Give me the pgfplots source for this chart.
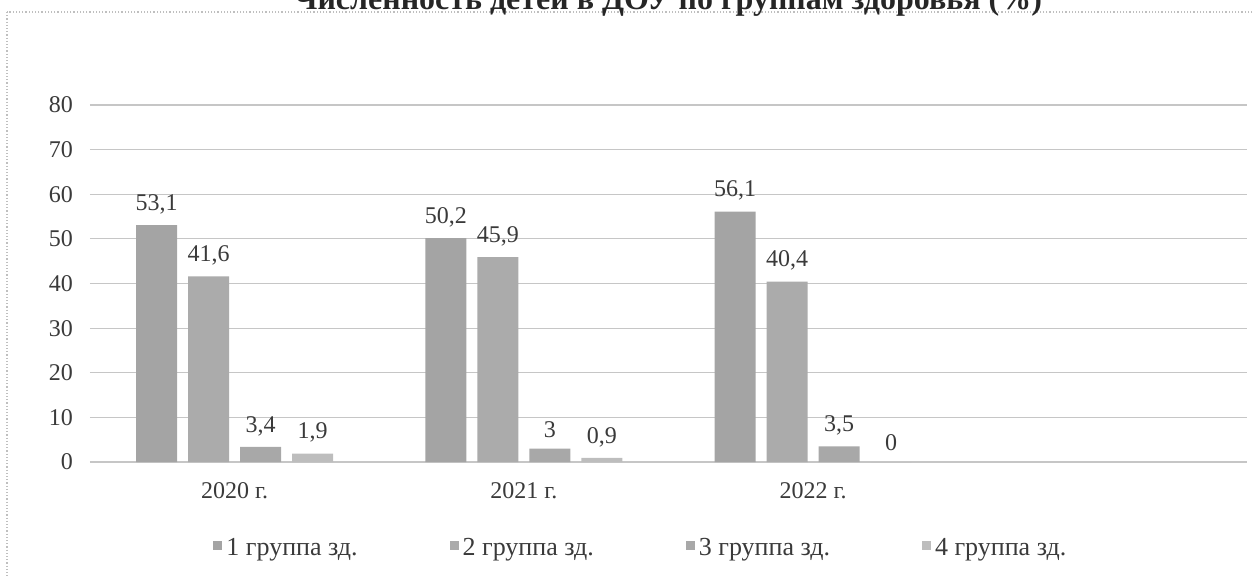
\documentclass[border=0pt]{standalone}
\usepackage{fontspec}
\setmainfont{Liberation Serif}
\usepackage{pgfplots}
\pgfplotsset{compat=1.18}
\definecolor{sA}{HTML}{A4A4A4}
\definecolor{sB}{HTML}{ABABAB}
\definecolor{sC}{HTML}{A8A8A8}
\definecolor{sD}{HTML}{BDBDBD}
\definecolor{txt}{HTML}{3A3A3A}
\begin{document}
\begin{tikzpicture}
\begin{axis}[
  at={(45pt,-231pt)}, anchor=south west,
  scale only axis, width=578.5pt, height=178.5pt,
  xmin=-0.5, xmax=3.5, ymin=0, ymax=80,
  ytick={0,10,...,80},
  xtick={0,1,2}, xticklabels={2020 г.,2021 г.,2022 г.},
  axis line style={draw=none},
  major tick length=0pt,
  tick style={draw=none},
  ymajorgrids,
  grid style={draw=gray!45, line width=0.6pt},
  /pgf/number format/assume math mode=true,
  /pgf/number format/use comma,
  yticklabel style={font=\fontsize{12}{14}\selectfont, text=txt, xshift=-5pt},
  xticklabel style={font=\fontsize{12}{14}\selectfont, text=txt, yshift=-6.5pt},
  ybar=5.5pt, bar width=20.5pt,
  nodes near coords,
  every node near coord/.append style={font=\fontsize{12}{14}\selectfont, text=txt, yshift=2pt},
  legend style={at={(0.477,-0.241)}, anchor=center, draw=none, fill=none,
    font=\fontsize{13}{15}\selectfont, text=txt,
    /tikz/every even column/.append style={column sep=44pt}},
  legend columns=4,
  legend image code/.code={\fill[#1, draw=none] (0pt,-1pt) rectangle (4.5pt,3.5pt);},
]
\addplot[fill=sA, draw=none] coordinates {(0,53.1) (1,50.2) (2,56.1)};
\addplot[fill=sB, draw=none] coordinates {(0,41.6) (1,45.9) (2,40.4)};
\addplot[fill=sC, draw=none] coordinates {(0,3.4) (1,3) (2,3.5)};
\addplot[fill=sD, draw=none] coordinates {(0,1.9) (1,0.9) (2,0)};
\legend{1 группа зд.,2 группа зд.,3 группа зд.,4 группа зд.}
\end{axis}
\begin{scope}
\clip (0pt,0pt) rectangle (627pt,-287.5pt);
\draw[gray!50, densely dotted, line width=0.6pt] (3.5pt,-6pt) rectangle (700pt,-400pt);
\node[anchor=base, inner sep=0pt, font=\fontsize{16}{19}\selectfont\bfseries, text=black!85] at (334pt,-4.5pt) {Численность детей в ДОУ по группам здоровья (\%)};
\end{scope}
\pgfresetboundingbox
\useasboundingbox (0pt,0pt) rectangle (627pt,-287.5pt);
\end{tikzpicture}
\end{document}
